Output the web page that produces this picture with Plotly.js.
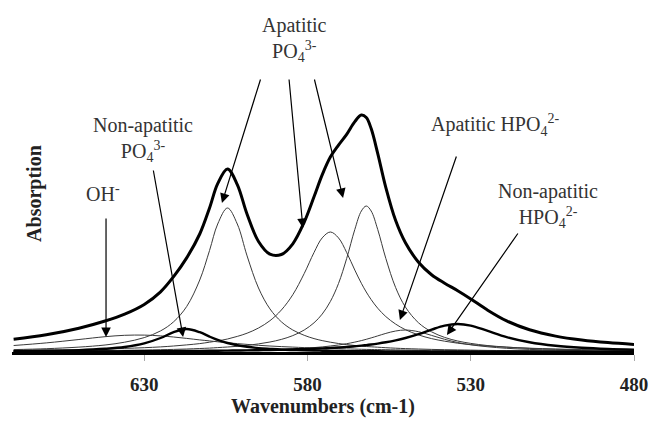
<!DOCTYPE html>
<html>
<head>
<meta charset="utf-8">
<script src="https://cdn.plot.ly/plotly-3.0.1.min.js"></script>
<style>html,body{margin:0;padding:0;background:#fff;}#chart{width:650px;height:430px;}</style>
</head>
<body>
<div id="chart"></div>
<script>
// Wavenumber sample points (cm-1)
var wn = [670,660,650,642,636,630,625,621,617,613,610,607.5,604.5,601.5,598.5,595,591.5,588,584.5,581,578,575.5,573,570.5,568,565.5,563.5,562,560.5,558.5,556,553,550,546,542,538,534,530,525,519,512,504,496,488,480];

// Fitted component bands (absorption, arbitrary units)
var ohBand      = [6.5,9.1,12.5,15.3,16.7,16.9,16.1,15.0,13.6,12.1,11.1,10.2,9.2,8.4,7.6,6.7,6.0,5.4,4.9,4.4,4.0,3.7,3.5,3.3,3.1,2.9,2.7,2.6,2.5,2.4,2.3,2.1,2.0,1.8,1.7,1.6,1.5,1.4,1.2,1.1,1.0,0.9,0.8,0.7,0.6];
var nonApPO4    = [0.8,1.2,1.9,3.2,5.0,8.6,14.0,19.8,23,19.8,15.4,12.1,9.0,6.8,5.2,3.9,3.1,2.4,2.0,1.7,1.4,1.3,1.1,1.0,0.9,0.8,0.8,0.7,0.7,0.7,0.6,0.6,0.5,0.5,0.4,0.4,0.3,0.3,0.3,0.2,0.2,0.2,0.2,0.1,0.1];
var apPO4a      = [2.4,3.3,4.9,7.0,9.8,14.4,21.1,30.2,45.5,72.0,101.5,128.0,144,128.0,96.1,64.0,43.1,30.2,22.0,16.7,13.4,11.4,9.8,8.5,7.4,6.5,5.9,5.5,5.2,4.8,4.3,3.8,3.4,3.0,2.6,2.3,2.1,1.9,1.6,1.4,1.2,1.0,0.9,0.8,0.7];
var apPO4b      = [1.5,1.9,2.4,3.0,3.6,4.3,5.1,6.0,7.1,8.4,9.8,11.1,13.0,15.6,18.8,24.0,31.3,42.0,57.3,78.5,99.5,114.1,120,114.1,99.5,81.9,68.7,60.0,52.4,43.8,35.4,27.9,22.3,17.1,13.4,10.8,8.8,7.4,6.0,4.8,3.8,3.0,2.4,2.0,1.7];
var apPO4c      = [0.8,1.0,1.2,1.5,1.7,2.0,2.3,2.6,3.0,3.5,3.9,4.4,5.0,5.7,6.7,8.1,10.0,12.6,16.4,22.0,29.2,37.9,50.5,68.5,93.5,122.6,141.0,146,141.0,122.6,93.5,64.4,44.9,29.2,20.2,14.6,11.0,8.6,6.5,4.9,3.6,2.7,2.1,1.7,1.4];
var apHPO4      = [0.3,0.4,0.4,0.5,0.6,0.7,0.7,0.8,0.9,1.0,1.1,1.2,1.4,1.5,1.7,1.9,2.3,2.6,3.1,3.7,4.4,5.1,6.0,7.0,8.3,9.9,11.4,12.7,14.1,16.1,18.6,21.0,22,20.3,16.6,12.7,9.5,7.2,5.3,3.7,2.6,1.9,1.4,1.1,0.9];
var nonApHPO4   = [0.4,0.4,0.5,0.6,0.7,0.8,0.8,0.9,1.0,1.1,1.2,1.3,1.4,1.5,1.6,1.8,2.0,2.3,2.6,2.9,3.3,3.6,4.0,4.5,5.1,5.7,6.4,6.9,7.5,8.4,9.7,11.6,14,17.9,22.4,26.4,28,26.4,21.3,14.9,9.7,6.2,4.2,3.0,2.3];
// Measured spectrum (envelope)
var spectrum    = [12.7,17.2,23.8,31.0,37.9,47.6,60.2,75.4,94.1,118.0,144.0,168.3,183.0,167.4,137.7,110.5,97.8,97.5,108.2,129.9,155.2,177.1,194.9,206.9,217.7,230.4,236.9,234.5,223.4,198.7,164.4,131.4,109.2,89.8,77.3,68.8,61.3,53.1,42.2,31.1,22.2,15.9,12.0,9.4,7.6];

// Tick labels
var tickVals = [630, 580, 530, 480];
var tickText = ['630', '580', '530', '480'];

var serif = 'Liberation Serif, Times New Roman, serif';
function thin(y){ return {x: wn, y: y, type:'scatter', mode:'lines', line:{color:'#3a3a3a', width:1, shape:'spline'}, hoverinfo:'skip'}; }
function thick(y, w){ return {x: wn, y: y, type:'scatter', mode:'lines', line:{color:'#000', width:w, shape:'spline'}, hoverinfo:'skip'}; }

var data = [
  thin(ohBand), thin(apPO4a), thin(apPO4b), thin(apPO4c), thin(apHPO4),
  thick(nonApPO4, 2.4), thick(nonApHPO4, 2.4),
  thick(spectrum, 3)
];

function arrow(x, y, ax, ay){
  return {x:x, y:y, xref:'x', yref:'y', ax:ax, ay:ay, text:'', showarrow:true,
          arrowhead:2, arrowsize:1.6, arrowwidth:1.2, arrowcolor:'#000', standoff:0};
}
function label(t, x, y){
  return {text:t, x:x, y:y, xref:'paper', yref:'paper', showarrow:false,
          xanchor:'center', yanchor:'middle', align:'center',
          font:{family:serif, size:20, color:'#333'}};
}

var layout = {
  width:650, height:430,
  margin:{l:12, r:16, t:52, b:78},
  paper_bgcolor:'#fff', plot_bgcolor:'#fff',
  showlegend:false,
  xaxis:{
    range:[670.5, 480], tickvals:tickVals, ticktext:tickText,
    ticks:'outside', ticklen:6, tickwidth:1, tickcolor:'#aaa',
    ticklabelstandoff:7,
    showline:true, linewidth:3, linecolor:'#000',
    showgrid:false, zeroline:false,
    tickfont:{family:serif, size:19, weight:'bold', color:'#222'},
    title:{text:'Wavenumbers (cm-1)', standoff:6, font:{family:serif, size:20, weight:'bold', color:'#222'}}
  },
  yaxis:{range:[0,300], visible:false, fixedrange:true},
  annotations:[
    {text:'Absorption', x:0.037, y:0.527, xref:'paper', yref:'paper', showarrow:false, textangle:-90,
     xanchor:'center', yanchor:'middle', font:{family:serif, size:20, weight:'bold', color:'#222'}},
    label('Apatitic<br>PO<sub>4</sub><sup>3-</sup>', 0.4534, 1.0417),
    label('Non-apatitic<br>PO<sub>4</sub><sup>3-</sup>', 0.2106, 0.71),
    label('OH<sup>-</sup>', 0.1463, 0.53),
    label('Apatitic HPO<sub>4</sub><sup>2-</sup>', 0.7765, 0.7567),
    label('Non-apatitic<br>HPO<sub>4</sub><sup>2-</sup>', 0.8617, 0.4867),
    arrow(641.7, 15, 0, -120),
    arrow(618.1, 15, -30, -168),
    arrow(606.2, 149, 39, -125),
    arrow(581.4, 124, -14, -150),
    arrow(569.1, 154, -29, -120),
    arrow(551.7, 32, 57, -165),
    arrow(537.3, 17, 72, -103)
  ]
};

Plotly.newPlot('chart', data, layout, {staticPlot:true, displayModeBar:false});
</script>
</body>
</html>
